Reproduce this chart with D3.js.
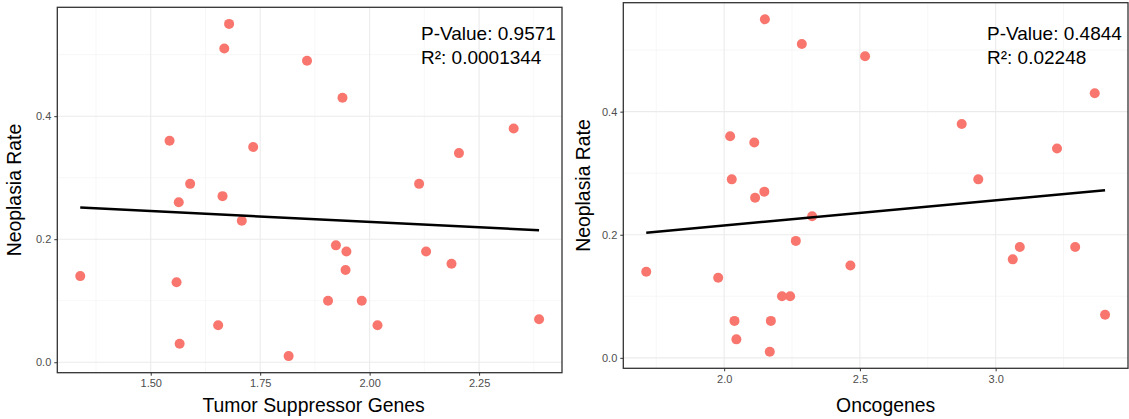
<!DOCTYPE html>
<html lang="en">
<head>
    <meta charset="UTF-8">
    <title>Neoplasia Rate</title>
    <script src="https://d3js.org/d3.v7.min.js"></script>
    <style>
        body { margin: 0; background: #fff; }
        svg { display: block; font-family: "Liberation Sans", Arial, sans-serif; }
        .grid-major { stroke: #ebebeb; stroke-width: 1.1; }
        .grid-minor { stroke: #f2f2f2; stroke-width: 0.6; }
        .tick text { fill: #4d4d4d; font-size: 11px; }
        .tick line { stroke: #333; }
        .domain { display: none; }
    </style>
</head>
<body>
<div id="chart"></div>
<script>
    // neoplasia rate, same for both panels
    const tsgX = [1.679, 1.668, 1.857, 1.938, 1.543, 1.734, 2.329, 2.204, 2.113, 1.590, 1.664, 1.564, 1.708, 1.339,
                  1.559, 1.923, 1.947, 1.945, 2.129, 2.187, 1.905, 1.982, 1.654, 2.018, 1.566, 1.815, 2.387];
    const tsgY = [0.55, 0.51, 0.49, 0.43, 0.36, 0.35, 0.38, 0.34, 0.29, 0.29, 0.27, 0.26, 0.23, 0.14,
                  0.13, 0.19, 0.18, 0.15, 0.18, 0.16, 0.10, 0.10, 0.06, 0.06, 0.03, 0.01, 0.07];

    const oncX = [2.150, 2.286, 2.519, 3.365, 2.875, 2.022, 2.111, 3.226, 2.028, 2.936, 2.148, 2.114, 2.324, 2.264,
                  3.089, 3.293, 3.063, 2.465, 1.713, 1.978, 2.213, 2.243, 3.403, 2.038, 2.172, 2.045, 2.168];
    const oncY = [0.55, 0.51, 0.49, 0.43, 0.38, 0.36, 0.35, 0.34, 0.29, 0.29, 0.27, 0.26, 0.23, 0.19,
                  0.18, 0.18, 0.16, 0.15, 0.14, 0.13, 0.10, 0.10, 0.07, 0.06, 0.06, 0.03, 0.01];

    // lm fits: [intercept, slope]
    const tsgFit = [0.2986, -0.0352];
    const oncFit = [0.1331, 0.04095];

    const tsgXTicks = [1.5, 1.75, 2.0, 2.25];
    const tsgXLabels = ["1.50", "1.75", "2.00", "2.25"];
    const oncXTicks = [2.0, 2.5, 3.0];
    const oncXLabels = ["2.0", "2.5", "3.0"];
    const yTicks = [0, 0.2, 0.4];
    const yLabels = ["0.0", "0.2", "0.4"];

    const tsgStats = ["P-Value: 0.9571", "R²: 0.0001344"];
    const oncStats = ["P-Value: 0.4844", "R²: 0.02248"];

    var width = 1129, height = 419;

    var svg = d3.select("#chart").append("svg")
        .attr("width", width)
        .attr("height", height);

    function expand(ext) {
        var d = (ext[1] - ext[0]) * 0.05;
        return [ext[0] - d, ext[1] + d];
    }

    function mids(t) {
        var out = [];
        var step = t[1] - t[0];
        for (var i = -1; i <= t.length; i++) out.push(t[0] + step * i + step / 2);
        return out;
    }

    function panel(p) {
        var x = d3.scaleLinear().domain(expand(d3.extent(p.xs))).range([p.x0, p.x1]);
        var y = d3.scaleLinear().domain(expand(d3.extent(p.ys))).range([p.y1, p.y0]);
        var g = svg.append("g");

        var xd = x.domain(), yd = y.domain();
        var inX = function(v) { return v > xd[0] && v < xd[1]; };
        var inY = function(v) { return v > yd[0] && v < yd[1]; };

        // grid
        g.selectAll(".gxm").data(mids(p.xTicks).filter(inX)).enter().append("line")
            .attr("class", "grid-minor")
            .attr("x1", d => x(d)).attr("x2", d => x(d)).attr("y1", p.y0).attr("y2", p.y1);
        g.selectAll(".gym").data(mids(yTicks).filter(inY)).enter().append("line")
            .attr("class", "grid-minor")
            .attr("y1", d => y(d)).attr("y2", d => y(d)).attr("x1", p.x0).attr("x2", p.x1);
        g.selectAll(".gx").data(p.xTicks).enter().append("line")
            .attr("class", "grid-major")
            .attr("x1", d => x(d)).attr("x2", d => x(d)).attr("y1", p.y0).attr("y2", p.y1);
        g.selectAll(".gy").data(yTicks).enter().append("line")
            .attr("class", "grid-major")
            .attr("y1", d => y(d)).attr("y2", d => y(d)).attr("x1", p.x0).attr("x2", p.x1);

        // points
        g.selectAll("circle").data(p.xs).enter().append("circle")
            .attr("cx", d => x(d))
            .attr("cy", (d, i) => y(p.ys[i]))
            .attr("r", 5)
            .attr("fill", "#F8766D");

        // regression line
        var ex = d3.extent(p.xs);
        g.append("line")
            .attr("x1", x(ex[0])).attr("y1", y(p.fit[0] + p.fit[1] * ex[0]))
            .attr("x2", x(ex[1])).attr("y2", y(p.fit[0] + p.fit[1] * ex[1]))
            .attr("stroke", "#000")
            .attr("stroke-width", 2.5);

        // border
        g.append("rect")
            .attr("x", p.x0).attr("y", p.y0)
            .attr("width", p.x1 - p.x0).attr("height", p.y1 - p.y0)
            .attr("fill", "none")
            .attr("stroke", "#333")
            .attr("stroke-width", 1.3);

        // axes
        g.append("g")
            .attr("transform", "translate(0," + p.y1 + ")")
            .call(d3.axisBottom(x).tickValues(p.xTicks).tickSize(3).tickPadding(4)
                .tickFormat((d, i) => p.xLabels[i]));
        g.append("g")
            .attr("transform", "translate(" + p.x0 + ",0)")
            .call(d3.axisLeft(y).tickValues(yTicks).tickSize(3).tickPadding(3)
                .tickFormat((d, i) => yLabels[i]));

        // titles
        g.append("text")
            .attr("x", (p.x0 + p.x1) / 2 + p.titleShift)
            .attr("y", 412)
            .attr("text-anchor", "middle")
            .attr("font-size", "19.4px")
            .text(p.xTitle);
        g.append("text")
            .attr("transform", "translate(" + p.yTitleX + "," + (p.y0 + p.y1) / 2 + ") rotate(-90)")
            .attr("text-anchor", "middle")
            .attr("font-size", "19.4px")
            .text("Neoplasia Rate");

        // stats
        g.selectAll(".stat").data(p.stats).enter().append("text")
            .attr("x", p.x1 - 141)
            .attr("y", (d, i) => 39.5 + i * 24)
            .attr("font-size", "19px")
            .text(d => d);
    }

    panel({xs: tsgX, ys: tsgY, fit: tsgFit, xTicks: tsgXTicks, xLabels: tsgXLabels,
           stats: tsgStats, xTitle: "Tumor Suppressor Genes", titleShift: 4,
           x0: 57.3, x1: 562, y0: 7.3, y1: 372.7, yTitleX: 21});

    panel({xs: oncX, ys: oncY, fit: oncFit, xTicks: oncXTicks, xLabels: oncXLabels,
           stats: oncStats, xTitle: "Oncogenes", titleShift: 10,
           x0: 623.3, x1: 1128, y0: 2.7, y1: 368.3, yTitleX: 590});
</script>
</body>
</html>
